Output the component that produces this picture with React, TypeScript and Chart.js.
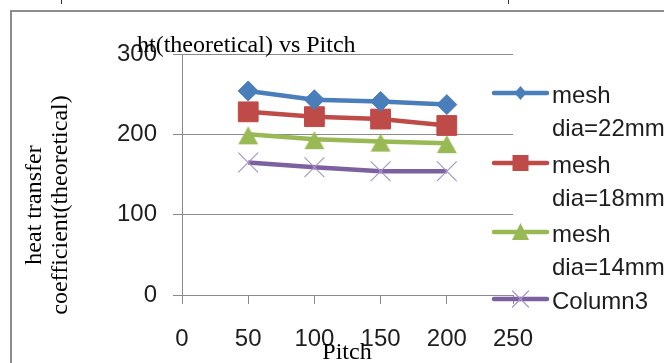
import React, { useEffect, useRef } from 'react';
import { Chart, registerables } from 'chart.js';

Chart.register(...registerables);

// Pitch values on the x axis
const pitch = [50, 100, 150, 200];

// Theoretical heat transfer coefficient for each series
const mesh22 = [254, 243, 241, 237];
const mesh18 = [228, 222, 219, 211];
const mesh14 = [200, 194, 191, 189];
const column3 = [165, 159, 154, 154];

// Legend labels (wrapped onto two lines like the original legend)
const label22 = ['mesh', 'dia=22mm'];
const label18 = ['mesh', 'dia=18mm'];
const label14 = ['mesh', 'dia=14mm'];
const label3 = ['Column3'];

const chartTitle = 'ht(theoretical) vs Pitch';
const yTitleLines = ['heat transfer', 'coefficient(theoretical)'];
const xTitle = 'Pitch';

const SANS = '"Liberation Sans", Arial, sans-serif';
const SERIF = '"Liberation Serif", "Times New Roman", serif';
const GRID = '#8a8a8a';
const TEXT = '#1e1e1e';

type Series = {
  lines: string[];
  values: number[];
  color: string;
  fill: string;
  marker: 'diamond' | 'square' | 'triangle' | 'cross';
  pointStyle: string;
  radius: number;
  markerBorder: string;
  markerBorderWidth: number;
};

const series: Series[] = [
  { lines: label22, values: mesh22, color: '#4a7ebb', fill: '#4a7ebb', marker: 'diamond', pointStyle: 'rectRot', radius: 10, markerBorder: '#4a7ebb', markerBorderWidth: 1 },
  { lines: label18, values: mesh18, color: '#be4b48', fill: '#be4b48', marker: 'square', pointStyle: 'rect', radius: 14, markerBorder: '#be4b48', markerBorderWidth: 1 },
  { lines: label14, values: mesh14, color: '#98b954', fill: '#98b954', marker: 'triangle', pointStyle: 'triangle', radius: 12, markerBorder: '#98b954', markerBorderWidth: 1 },
  { lines: label3, values: column3, color: '#7d60a0', fill: '#7d60a0', marker: 'cross', pointStyle: 'crossRot', radius: 14, markerBorder: '#a896c8', markerBorderWidth: 1.2 },
];

// Triangle marker sitting slightly low on its point, as Excel draws it
function makeTriangleMarker(color: string): HTMLCanvasElement {
  const c = document.createElement('canvas');
  c.width = 22;
  c.height = 22;
  const g = c.getContext('2d');
  if (g) {
    g.fillStyle = color;
    g.beginPath();
    g.moveTo(11, 3);
    g.lineTo(21, 21);
    g.lineTo(1, 21);
    g.closePath();
    g.fill();
  }
  return c;
}

function drawLegendMarker(ctx: CanvasRenderingContext2D, s: Series, x: number, y: number) {
  ctx.save();
  ctx.fillStyle = s.fill;
  ctx.strokeStyle = s.markerBorder;
  ctx.lineWidth = s.markerBorderWidth;
  ctx.beginPath();
  if (s.marker === 'diamond') {
    ctx.moveTo(x, y - 7);
    ctx.lineTo(x + 6, y);
    ctx.lineTo(x, y + 7);
    ctx.lineTo(x - 6, y);
    ctx.closePath();
    ctx.fill();
  } else if (s.marker === 'square') {
    ctx.rect(x - 8, y - 8, 16, 16);
    ctx.fill();
  } else if (s.marker === 'triangle') {
    ctx.moveTo(x, y - 9);
    ctx.lineTo(x + 8.5, y + 8);
    ctx.lineTo(x - 8.5, y + 8);
    ctx.closePath();
    ctx.fill();
  } else {
    ctx.moveTo(x - 8, y - 8);
    ctx.lineTo(x + 8, y + 8);
    ctx.moveTo(x + 8, y - 8);
    ctx.lineTo(x - 8, y + 8);
    ctx.stroke();
  }
  ctx.restore();
}

// Frame, titles and the legend around the plot
const decorations = {
  id: 'decorations',
  beforeDraw(chart: any) {
    const ctx: CanvasRenderingContext2D = chart.ctx;
    ctx.save();
    ctx.fillStyle = '#ffffff';
    ctx.fillRect(0, 0, chart.width, chart.height);
    // outer frame
    ctx.strokeStyle = '#8c8c8c';
    ctx.lineWidth = 2;
    ctx.beginPath();
    ctx.moveTo(11, chart.height);
    ctx.lineTo(11, 11);
    ctx.lineTo(chart.width, 11);
    ctx.stroke();
    // small marks along the top edge
    ctx.strokeStyle = '#333';
    ctx.lineWidth = 1;
    ctx.beginPath();
    ctx.moveTo(61.5, 0);
    ctx.lineTo(61.5, 4);
    ctx.moveTo(508.5, 0);
    ctx.lineTo(508.5, 4);
    ctx.stroke();
    ctx.restore();
  },
  afterDraw(chart: any) {
    const ctx: CanvasRenderingContext2D = chart.ctx;
    ctx.save();
    ctx.fillStyle = '#000';
    ctx.textBaseline = 'alphabetic';

    // chart title
    ctx.font = `24px ${SERIF}`;
    ctx.textAlign = 'left';
    ctx.fillText(chartTitle, 137, 52);

    // x axis title
    ctx.textAlign = 'center';
    ctx.fillText(xTitle, 347, 359);

    // y axis title (two rotated lines)
    ctx.save();
    ctx.translate(41, 205);
    ctx.rotate(-Math.PI / 2);
    ctx.fillText(yTitleLines[0], 0, 0);
    ctx.restore();
    ctx.save();
    ctx.translate(67, 205);
    ctx.rotate(-Math.PI / 2);
    ctx.fillText(yTitleLines[1], 0, 0);
    ctx.restore();

    // legend
    const sampleY = [93, 163, 232, 299];
    ctx.font = `24px ${SANS}`;
    ctx.textAlign = 'left';
    series.forEach((s, i) => {
      const y = sampleY[i];
      ctx.strokeStyle = s.color;
      ctx.lineWidth = 4.5;
      ctx.lineCap = 'round';
      ctx.beginPath();
      ctx.moveTo(494, y);
      ctx.lineTo(547, y);
      ctx.stroke();
      drawLegendMarker(ctx, s, 520.5, y);
      ctx.fillStyle = TEXT;
      s.lines.forEach((line, j) => {
        ctx.fillText(line, 552, y + 10 + j * 33);
      });
    });
    ctx.restore();
  },
};

export default function App() {
  const canvasRef = useRef<HTMLCanvasElement | null>(null);

  useEffect(() => {
    const canvas = canvasRef.current;
    if (!canvas) return;
    const chart = new Chart(canvas, {
      type: 'line',
      data: {
        datasets: series.map((s) => ({
          label: s.lines.join(' '),
          data: pitch.map((p, i) => ({ x: p, y: s.values[i] })),
          borderColor: s.color,
          borderWidth: 4.5,
          backgroundColor: s.fill,
          pointStyle: (s.marker === 'triangle' ? makeTriangleMarker(s.fill) : s.pointStyle) as any,
          pointRadius: s.radius,
          pointBackgroundColor: s.fill,
          pointBorderColor: s.markerBorder,
          pointBorderWidth: s.markerBorderWidth,
          tension: 0,
          fill: false,
        })),
      },
      options: {
        responsive: false,
        animation: false,
        devicePixelRatio: 1,
        layout: { padding: { left: 0, top: 54, right: 151, bottom: 0 } },
        plugins: {
          legend: { display: false },
          title: { display: false },
          tooltip: { enabled: false },
        },
        scales: {
          x: {
            type: 'linear',
            min: 0,
            max: 250,
            afterFit(scale: any) {
              scale.height = 68;
            },
            ticks: {
              stepSize: 50,
              padding: 21,
              color: TEXT,
              font: { family: SANS, size: 24 },
              maxRotation: 0,
            },
            grid: { drawOnChartArea: false, drawTicks: true, tickLength: 9, color: GRID },
            border: { color: GRID },
          },
          y: {
            min: 0,
            max: 300,
            afterFit(scale: any) {
              scale.width = 182;
            },
            ticks: {
              stepSize: 100,
              padding: 16,
              color: TEXT,
              font: { family: SANS, size: 24 },
            },
            grid: { color: GRID, tickLength: 9 },
            border: { color: GRID },
          },
        },
      },
      plugins: [decorations],
    });
    return () => chart.destroy();
  }, []);

  return (
    <div style={{ position: 'fixed', left: 0, top: 0, width: 664, height: 363, background: '#fff' }}>
      <canvas ref={canvasRef} width={664} height={363} style={{ display: 'block' }} />
    </div>
  );
}
